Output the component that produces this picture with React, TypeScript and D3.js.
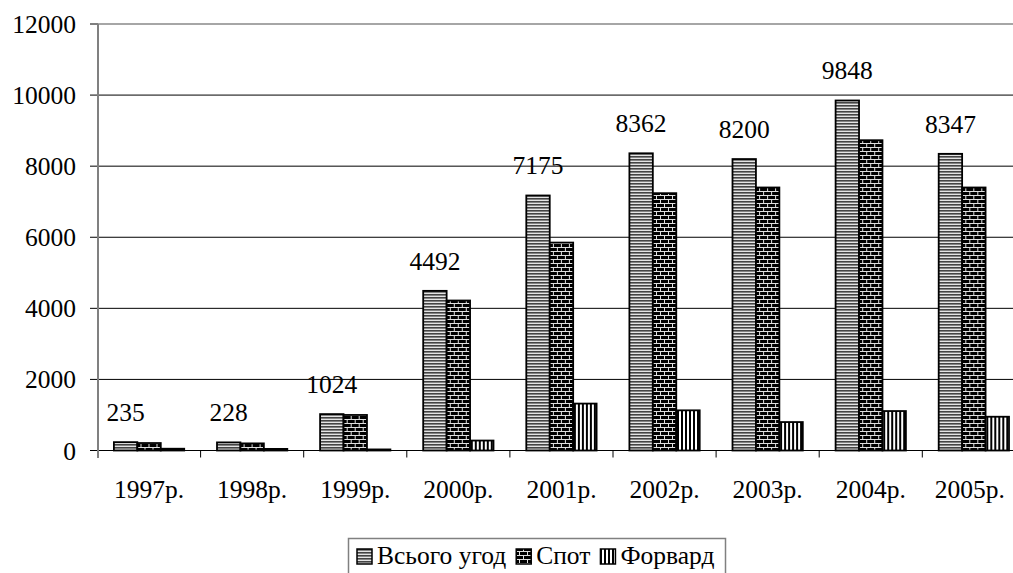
import React, { useEffect, useLayoutEffect, useRef, useState } from "react";
import { scaleBand, scaleLinear } from "d3";

const years = ["1997р.", "1998р.", "1999р.", "2000р.", "2001р.", "2002р.", "2003р.", "2004р.", "2005р."];
const totalDeals = [235, 228, 1024, 4492, 7175, 8362, 8200, 9848, 8347];
const spotDeals = [210, 200, 1000, 4220, 5850, 7240, 7400, 8730, 7400];
const forwardDeals = [50, 45, 30, 280, 1320, 1130, 800, 1110, 950];
const seriesNames = ["Всього угод", "Спот", "Форвард"];
const yTicks = [0, 2000, 4000, 6000, 8000, 10000, 12000];

const W = 1013;
const H = 573;
const font = "Liberation Serif";
const fills = ["url(#pTotal)", "url(#pSpot)", "url(#pForward)"];

export default function App() {
  const series = [totalDeals, spotDeals, forwardDeals];
  const legendRefs = useRef<(SVGTextElement | null)[]>([]);
  const [legendX, setLegendX] = useState([357, 501, 631]);
  const [legendRight, setLegendRight] = useState(683.5);
  const [fontTick, setFontTick] = useState(0);

  // make sure the serif face is loaded, then lay out again
  useEffect(() => {
    const fonts = (document as any).fonts;
    if (!fonts) return;
    fonts
      .load('26px "Liberation Serif"', "Всього 1997р.")
      .then(() => fonts.ready)
      .then(() => setFontTick((t) => t + 1))
      .catch(() => {});
  }, []);

  useLayoutEffect(() => {
    // legend items placed from the real text widths
    const xs: number[] = [];
    let cur = 357;
    legendRefs.current.forEach((el, k) => {
      xs.push(cur);
      const w = el ? el.getComputedTextLength() : 100;
      cur = cur + 20 + w + 10;
      if (k === seriesNames.length - 1) setLegendRight(cur - 10 + 11);
    });
    setLegendX(xs);
  }, [fontTick]);

  const y = scaleLinear().domain([0, 12000]).range([450.5, 24]);
  const x = scaleBand<string>().domain(years).range([97.5, 97.5 + 9 * 103.1]).padding(0);
  const x1 = scaleBand<number>()
    .domain([0, 1, 2])
    .range([16.4, 16.4 + 70.3])
    .padding(0);

  return (
    <svg width={W} height={H} style={{ position: "absolute", left: 0, top: 0 }}>
      <defs>
        <pattern id="pTotal" width="4" height="3" patternUnits="userSpaceOnUse">
          <rect width="4" height="3" fill="#e4e4e4" />
          <rect y="0" width="4" height="1.6" fill="#444" />
        </pattern>
        <pattern id="pSpot" width="8" height="8" patternUnits="userSpaceOnUse">
          <rect width="8" height="8" fill="#e0e0e0" />
          <rect x="0" y="0" width="7" height="3" fill="#000" />
          <rect x="4" y="4" width="4" height="3" fill="#000" />
          <rect x="0" y="4" width="3" height="3" fill="#000" />
        </pattern>
        <pattern id="pForward" width="4" height="4" patternUnits="userSpaceOnUse">
          <rect width="4" height="4" fill="#fff" />
          <rect x="0" width="2" height="4" fill="#000" />
        </pattern>
      </defs>

      {/* grid */}
      {yTicks.slice(1).map((t) => (
        <line
          key={"g" + t}
          x1={98}
          x2={W}
          y1={y(t)}
          y2={y(t)}
          stroke={t === 12000 ? "#888" : "#000"}
          strokeWidth={t === 12000 ? 1.5 : 1}
        />
      ))}

      {/* y ticks + labels */}
      {yTicks.map((t) => (
        <g key={"y" + t}>
          <line x1={90} x2={98} y1={y(t)} y2={y(t)} stroke="#000" strokeWidth={1} />
          <text x={76} y={y(t) + 9} textAnchor="end" fontFamily={font} fontSize={25.5} fill="#000">
            {t}
          </text>
        </g>
      ))}

      {/* bars */}
      {years.map((yr, i) => (
        <g key={yr} transform={`translate(${x(yr)},0)`}>
          {series.map((s, k) => (
            <rect
              key={k}
              x={x1(k)}
              y={y(s[i])}
              width={x1.bandwidth()}
              height={y(0) - y(s[i])}
              fill={fills[k]}
              stroke="#000"
              strokeWidth={1.8}
            />
          ))}
          <text
            x={(x1(0) as number) + x1.bandwidth() / 2}
            y={y(totalDeals[i]) - 21}
            textAnchor="middle"
            fontFamily={font}
            fontSize={25.5}
            fill="#000"
          >
            {totalDeals[i]}
          </text>
        </g>
      ))}

      {/* x axis */}
      <line x1={97} x2={W} y1={y(0)} y2={y(0)} stroke="#000" strokeWidth={1.2} />
      {years.map((yr) => (
        <line key={"t" + yr} x1={x(yr)} x2={x(yr)} y1={y(0)} y2={y(0) + 7} stroke="#000" strokeWidth={1} />
      ))}
      {years.map((yr, i) => (
        <text
          key={"l" + yr}
          x={(x(yr) as number) + x.bandwidth() / 2 - (i === years.length - 1 ? 4 : 0)}
          y={498}
          textAnchor="middle"
          fontFamily={font}
          fontSize={25.5}
          fill="#000"
        >
          {yr}
        </text>
      ))}

      {/* y axis */}
      <line x1={98} x2={98} y1={24} y2={458} stroke="#808080" strokeWidth={2} />

      {/* legend */}
      <rect
        x={348.5}
        y={538.5}
        width={legendRight - 348.5}
        height={50}
        fill="#fff"
        stroke="#808080"
        strokeWidth={1.5}
      />
      {seriesNames.map((name, k) => (
        <g key={name}>
          <rect x={legendX[k]} y={549} width={15} height={15} fill={fills[k]} stroke="#000" strokeWidth={1.5} />
          <text
            ref={(el) => {
              legendRefs.current[k] = el;
            }}
            x={legendX[k] + 20}
            y={564}
            fontFamily={font}
            fontSize={25.5}
            fill="#000"
          >
            {name}
          </text>
        </g>
      ))}
    </svg>
  );
}
